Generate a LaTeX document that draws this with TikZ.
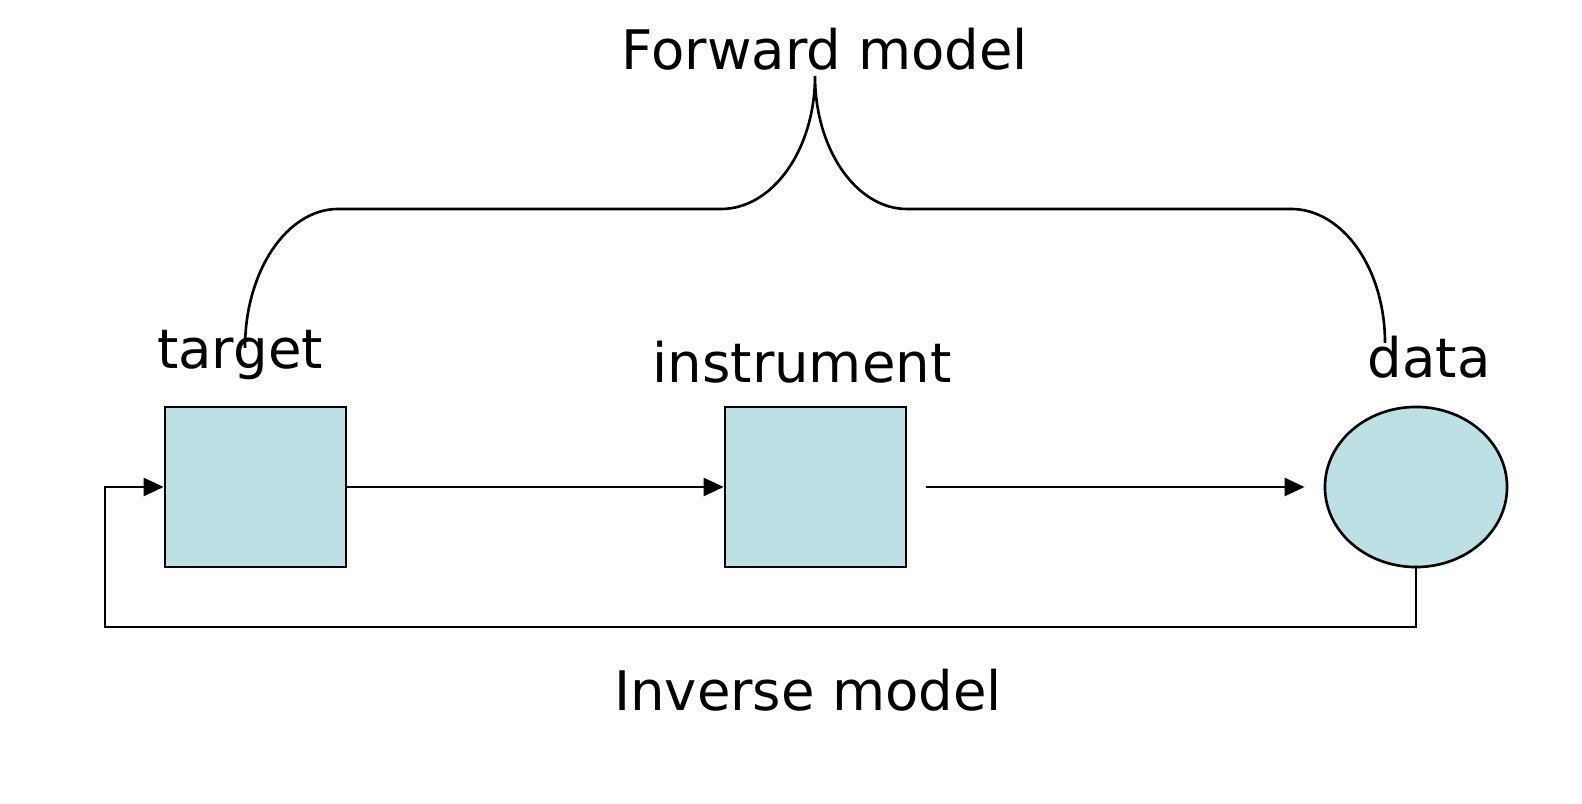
\documentclass[tikz,border=0pt]{standalone}
\usepackage{fontspec}
\setmainfont{DejaVu Sans}
\usepackage{tikz}
\usetikzlibrary{arrows.meta, shapes.geometric}
\usepackage{xcolor}
\definecolor{paleblue}{RGB}{189,224,229}

\begin{document}
\begin{tikzpicture}[x=0.01cm, y=-0.01cm, >={Triangle[length=2mm, width=1.8mm]},
    line width=0.75pt,
    block/.style={draw=black, fill=paleblue, minimum width=1.81cm, minimum height=1.6cm, inner sep=0pt},
    lbl/.style={anchor=base, inner sep=0pt, font=\fontsize{15.5}{18}\selectfont}]
  \def\ymid{487}
  \useasboundingbox (0,0) rectangle (1582,804);

  % blocks
  \node[block] (target) at (255.5,\ymid) {};
  \node[block] (instr) at (815.5,\ymid) {};
  \node[block, ellipse, minimum width=1.82cm] (data) at (1416,\ymid) {};

  % labels
  \node[lbl] (tlabel) at (240,369) {target};
  \node[lbl] (ilabel) at (802,383) {instrument};
  \node[lbl] (dlabel) at (1429,378) {data};
  \node[lbl] (fwd) at (825,70) {Forward model};
  \node[lbl] (inv) at (808,711) {Inverse model};

  % forward chain
  \draw[->] (target) -- (instr);
  \draw[->, shorten <=0.19cm, shorten >=0.19cm] (instr) -- (data);

  % inverse loop
  \coordinate (turn) at (105,627);
  \draw[->] (data.south) |- (turn) |- (target.west);

  % brace
  \draw (245,348) .. controls (245,271) and (287,209) .. (338,209)
    -- (721,209) .. controls (773,209) and (815,149) .. (815,76)
    .. controls (815,149) and (856,209) .. (907,209)
    -- (1291,209) .. controls (1343,209) and (1385,269) .. (1385,343);
\end{tikzpicture}
\end{document}
